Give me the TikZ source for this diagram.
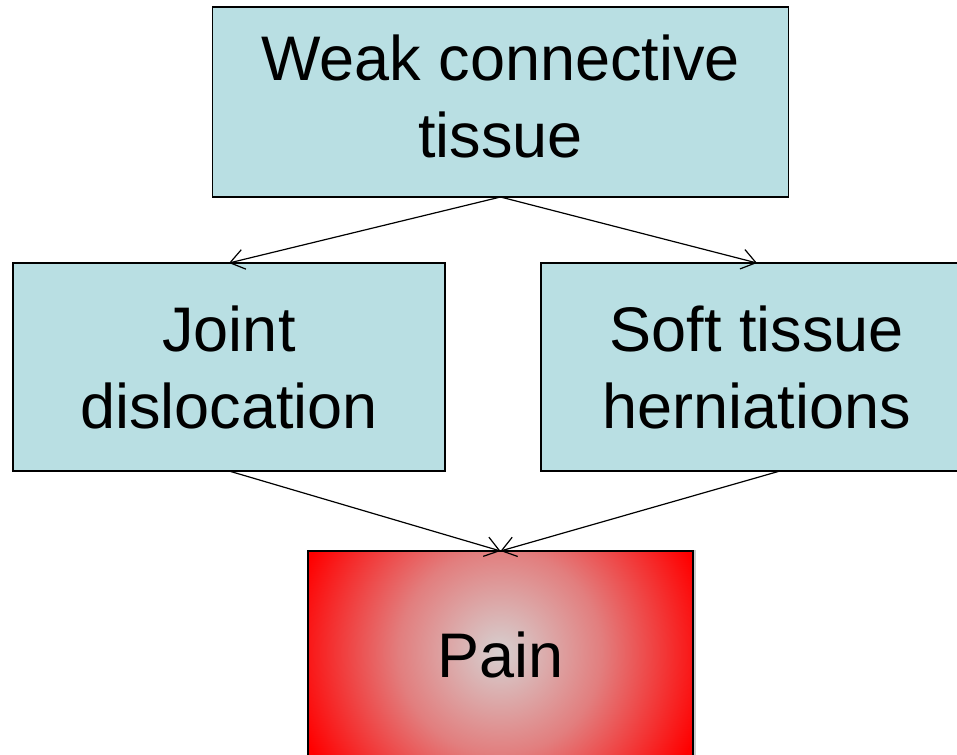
\documentclass[tikz,border=0pt]{standalone}
\usepackage{fontspec}
\setmainfont{Liberation Sans}
\usetikzlibrary{arrows.meta}
\definecolor{boxfill}{RGB}{185,223,227}
\definecolor{painin}{RGB}{214,208,208}
\definecolor{painmid}{RGB}{226,126,126}
\definecolor{painred}{RGB}{255,0,0}
\pgfdeclareradialshading{painglow}{\pgfpoint{0bp}{0bp}}{color(0bp)=(painin); color(12bp)=(painmid); color(25bp)=(painred); color(50bp)=(painred)}
\begin{document}
\begin{tikzpicture}[x=1pt,y=-1pt,
  boxline/.style={draw=black, line width=1.7pt},
  bluebox/.style={boxline, fill=boxfill, rectangle, inner sep=0pt, outer sep=0pt,
    minimum width=432pt, minimum height=208pt, align=center,
    font=\fontsize{63}{77}\selectfont},
  conn/.style={draw=black, line width=1.2pt,
    -{Straight Barb[length=14pt,width=20pt,line width=1.2pt]}},
  bigtext/.style={font=\fontsize{63}{77}\selectfont}
]
\useasboundingbox (0,0) rectangle (957,754);

\node[bluebox, minimum width=576pt, minimum height=190pt, text depth=12pt] (top) at (500.5,102) {Weak connective\\tissue};
\node[bluebox] (left) at (229,367) {Joint\\dislocation};
\node[bluebox] (right) at (757,367) {Soft tissue\\herniations};

% pain box with shadow and radial glow
\node[rectangle, inner sep=0pt, outer sep=0pt, minimum width=385pt, minimum height=206pt,
      draw=black!20, line width=4pt] (painshadow) at (501.5,655) {};
\node[rectangle, inner sep=0pt, outer sep=0pt, minimum width=385pt, minimum height=206pt,
      fill=painred] (pain) at (500.5,654) {};
\begin{scope}
  \clip (pain.north west) rectangle (pain.south east);
  \shade[shading=painglow] (500,652) circle (212pt);
\end{scope}
\draw[boxline] (pain.north west) rectangle (pain.south east);
\node[bigtext, anchor=base, inner sep=0pt] (painlabel) at (500.5,677) {Pain};

\draw[conn] (top.south) -- (left.north);
\draw[conn] (top.south) -- (right.north);
\draw[conn] (left.south) -- (pain.north);
\draw[conn] ([xshift=23pt]right.south) -- (pain.north);
\end{tikzpicture}
\end{document}
